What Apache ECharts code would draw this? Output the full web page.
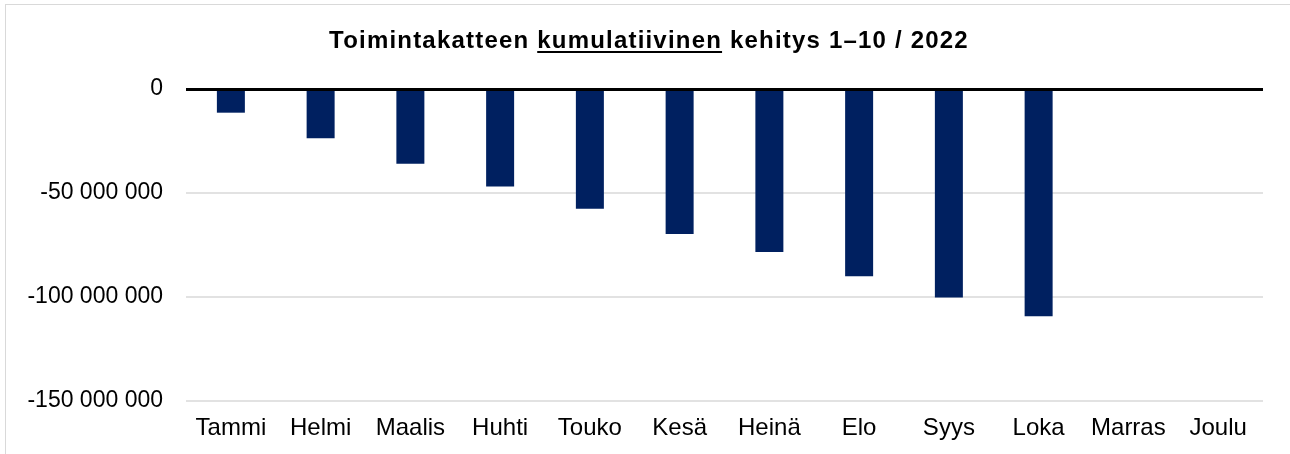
<!DOCTYPE html>
<html>
<head>
<meta charset="utf-8">
<script src="https://cdn.jsdelivr.net/npm/echarts@6/dist/echarts.min.js"></script>
<style>
  html, body { margin: 0; padding: 0; background: #fff; overflow: hidden; }
  #wrap { position: relative; width: 1290px; height: 454px; }
  #frame {
    position: absolute; left: 5px; top: 4px; width: 1400px; height: 600px;
    border: 1.5px solid #d9d9d9; box-sizing: border-box;
  }
  #title {
    position: absolute; left: 0; top: 28px; width: 1298px; text-align: center;
    font-family: "Liberation Sans", Arial, sans-serif; font-weight: bold;
    font-size: 24px; letter-spacing: 1.2px; color: #000; line-height: 24px;
  }
  #title u { text-decoration-thickness: 2px; text-underline-offset: 3px; }
  #chart { position: absolute; left: 0; top: 0; width: 1290px; height: 454px; }
</style>
</head>
<body>
<div id="wrap">
  <div id="frame"></div>
  <div id="chart"></div>
  <div id="title">Toimintakatteen <u>kumulatiivinen</u> kehitys 1–10 / 2022</div>
</div>
<script>
// kuukaudet
const months = ["Tammi", "Helmi", "Maalis", "Huhti", "Touko", "Kesä", "Heinä", "Elo", "Syys", "Loka", "Marras", "Joulu"];
// kumulatiivinen toimintakate (luettu kuvasta)
const values = [-11400000, -23700000, -36000000, -46900000, -57600000, -69800000, -78500000, -90100000, -100300000, -109300000, null, null];
const yTicks = { min: -150000000, max: 0, step: 50000000 };

const chart = echarts.init(document.getElementById("chart"));

function fmt(v) {
  const s = Math.abs(v).toString().replace(/\B(?=(\d{3})+(?!\d))/g, " ");
  return (v < 0 ? "-" : "") + s;
}

const option = {
  animation: false,
  grid: { left: 186, right: 27, top: 89, bottom: 53.3, containLabel: false },
  xAxis: {
    type: "category",
    data: months,
    position: "bottom",
    axisLine: { show: false },
    axisTick: { show: false },
    axisLabel: {
      margin: 16,
      fontSize: 24,
      color: "#000",
      fontFamily: "Liberation Sans, Arial, sans-serif",
      interval: 0,
    },
  },
  yAxis: {
    type: "value",
    min: yTicks.min,
    max: yTicks.max,
    interval: yTicks.step,
    axisLine: { show: false },
    axisTick: { show: false },
    splitLine: { lineStyle: { color: "#d9d9d9", width: 1.5 } },
    axisLabel: {
      margin: 23,
      fontSize: 23,
      color: "#000",
      fontFamily: "Liberation Sans, Arial, sans-serif",
      formatter: fmt,
    },
  },
  series: [
    {
      type: "bar",
      data: values,
      barWidth: 28,
      itemStyle: { color: "#002060" },
      markLine: {
        silent: true,
        symbol: "none",
        label: { show: false },
        lineStyle: { color: "#000", width: 3, type: "solid" },
        data: [{ yAxis: 0 }],
      },
    },
  ],
};

chart.setOption(option);
</script>
</body>
</html>
